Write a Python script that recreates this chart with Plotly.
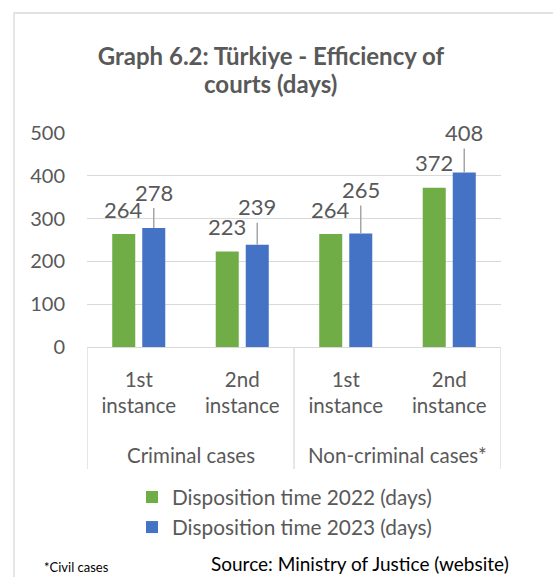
import plotly.graph_objects as go

# ---- data ----
instances = ["1st<br>instance", "2nd<br>instance", "1st<br>instance", "2nd<br>instance"]
groups = ["Criminal cases", "Non-criminal cases*"]
dt_2022 = [264, 223, 264, 372]
dt_2023 = [278, 239, 265, 408]
series_names = ["Disposition time 2022 (days)", "Disposition time 2023 (days)"]
y_ticks = [0, 100, 200, 300, 400, 500]
title_lines = ["Graph 6.2: Türkiye - Efficiency of", "courts (days)"]

# ---- styles ----
FONT = "Lato"
GREY = "#595959"
LIGHT = "#d9d9d9"
GREEN = "#70AD47"
BLUE = "#4472C4"
lift_2023 = [36, 38, 44, 40]   # pixel lift of the 2023 labels above their bars
lift_2022 = 25

W, H = 553, 577
L, R, T, B = 87, 52, 133, 230
ph = H - T - B
pw = W - L - R

def py(px):   # pixel y -> paper y
    return (H - B - px) / ph

def pxx(px):  # pixel x -> paper x
    return (px - L) / pw

x = list(range(len(instances)))

fig = go.Figure()
fig.add_bar(x=x, y=dt_2022, name=series_names[0], marker=dict(color=GREEN, line=dict(width=0)))
fig.add_bar(x=x, y=dt_2023, name=series_names[1], marker=dict(color=BLUE, line=dict(width=0)))

ann = []
shapes = []
for i, v in enumerate(dt_2022):
    ann.append(dict(x=i, y=v, xref="x", yref="y", xshift=-15, yshift=lift_2022, text=str(v),
                    showarrow=False, xanchor="center", yanchor="middle",
                    font=dict(family=FONT, size=22, color=GREY)))
for i, v in enumerate(dt_2023):
    ann.append(dict(x=i, y=v, xref="x", yref="y", xshift=15, yshift=lift_2023[i], text=str(v),
                    showarrow=False, xanchor="center", yanchor="middle",
                    font=dict(family=FONT, size=22, color=GREY)))
    shapes.append(dict(type="line", xref="x", yref="y", xsizemode="pixel", ysizemode="pixel",
                       xanchor=i, yanchor=v, x0=15, x1=15, y0=0, y1=lift_2023[i] - 16,
                       line=dict(color="#a6a6a6", width=1.5)))

# second title line
ann.append(dict(x=pxx(270), y=py(84), xref="paper", yref="paper", text="<b>" + title_lines[1] + "</b>",
                showarrow=False, xanchor="center", yanchor="middle",
                font=dict(family=FONT, size=24, color=GREY)))

# group labels
for g, name in enumerate(groups):
    ann.append(dict(x=2 * g + 0.5, xref="x", y=py(455), yref="paper", text=name, showarrow=False,
                    xanchor="center", yanchor="middle", font=dict(family=FONT, size=20.5, color=GREY)))

# category separators
for sx in [-0.5, 1.5, 3.5]:
    shapes.append(dict(type="line", xref="x", yref="paper", x0=sx, x1=sx, y0=0, y1=py(469),
                       line=dict(color=LIGHT, width=1.3)))

# outer chart border
shapes.append(dict(type="rect", xref="paper", yref="paper", x0=pxx(14), x1=pxx(W + 20),
                   y0=py(H + 20), y1=py(13), line=dict(color=LIGHT, width=1.3),
                   fillcolor="rgba(0,0,0,0)", layer="below"))

# footnotes
ann.append(dict(x=pxx(42), y=py(567), xref="paper", yref="paper", text="*Civil cases", showarrow=False,
                xanchor="left", yanchor="middle", font=dict(family=FONT, size=13, color="#000000")))
ann.append(dict(x=pxx(511), y=py(563), xref="paper", yref="paper",
                text="Source: Ministry of Justice (website)", showarrow=False,
                xanchor="right", yanchor="middle", font=dict(family=FONT, size=19, color="#000000")))

fig.update_layout(
    width=W, height=H,
    margin=dict(l=L, r=R, t=T, b=B),
    paper_bgcolor="white", plot_bgcolor="white",
    barmode="group", bargap=0.42, bargroupgap=0.233,
    title=dict(text="<b>" + title_lines[0] + "</b>",
               x=pxx(271), xref="paper", xanchor="center",
               y=1 - 57 / H, yref="container", yanchor="middle",
               font=dict(family=FONT, size=24, color=GREY)),
    xaxis=dict(range=[-0.5, 3.5], tickvals=x, ticktext=instances, showgrid=False,
               showline=True, linecolor=LIGHT, linewidth=1.3, ticks="", zeroline=False,
               tickfont=dict(family=FONT, size=20.5, color=GREY), ticklabelstandoff=14),
    yaxis=dict(range=[0, 500], tickvals=y_ticks, showgrid=True, gridcolor=LIGHT, gridwidth=1.3,
               zeroline=False, showline=False, ticks="",
               tickfont=dict(family=FONT, size=20, color=GREY), ticklabelstandoff=21),
    legend=dict(x=pxx(132), y=py(477), xref="paper", yref="paper", xanchor="left", yanchor="top",
                font=dict(family=FONT, size=20.8, color=GREY), bgcolor="rgba(0,0,0,0)",
                tracegroupgap=0),
    annotations=ann, shapes=shapes,
    showlegend=True,
)

fig.write_html("out.html", config={"displayModeBar": False},
               post_script="document.body.style.margin='0';")
